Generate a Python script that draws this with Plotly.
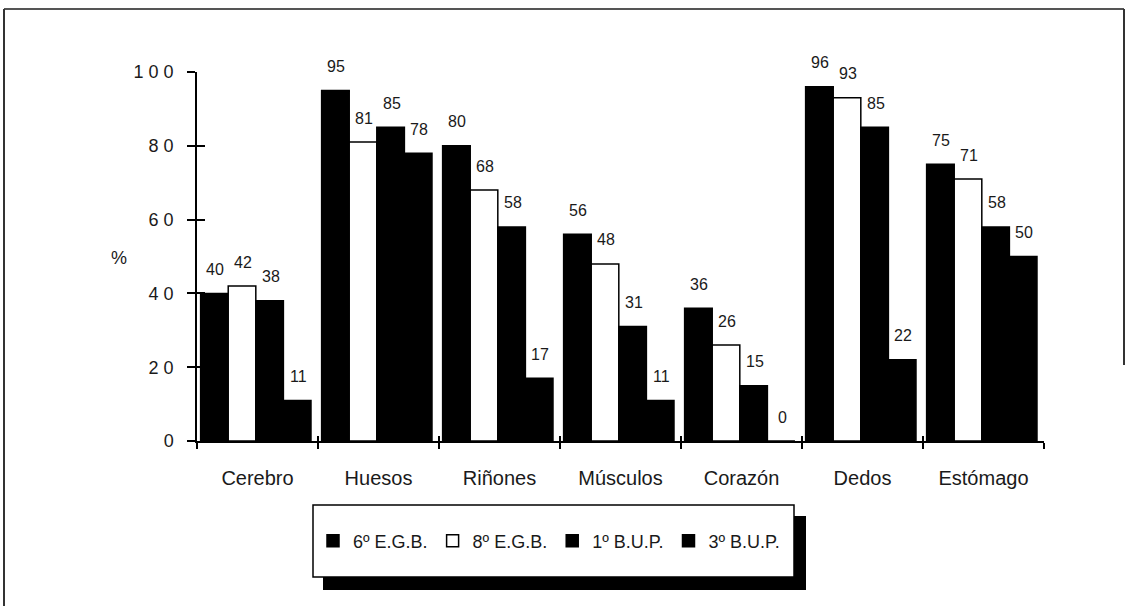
import plotly.graph_objects as go

categories = ["Cerebro", "Huesos", "Riñones", "Músculos", "Corazón", "Dedos", "Estómago"]
series_names = ["6º E.G.B.", "8º E.G.B.", "1º B.U.P.", "3º B.U.P."]
egb6 = [40, 95, 80, 56, 36, 96, 75]
egb8 = [42, 81, 68, 48, 26, 93, 71]
bup1 = [38, 85, 58, 31, 15, 85, 58]
bup3 = [11, 78, 17, 11, 0, 22, 50]
series_values = [egb6, egb8, bup1, bup3]
fills = ["black", "white", "black", "black"]
y_tickvals = [0, 20, 40, 60, 80, 100]
y_ticktext = ["0", "2 0", "4 0", "6 0", "8 0", "1 0 0"]

W, H = 1127, 607
X0, X1, Y0, Y1 = 197, 1044, 72, 441   # plot area in px
L, R, T, B = X0, W - X1, Y0, H - Y1
plot_w = X1 - X0
plot_h = Y1 - Y0
cat_px = plot_w / len(categories)

FONT = "Arial, 'Liberation Sans', Helvetica, sans-serif"
INK = "#1a1a1a"

bar_w = 0.228
start = -0.47


def px(xs):
    return (xs - X0) / plot_w


def py(ys):
    return (Y1 - ys) / plot_h


fig = go.Figure()
annotations = []
for i, (name, vals, fc) in enumerate(zip(series_names, series_values, fills)):
    off = start + i * bar_w
    fig.add_trace(go.Bar(
        name=name, x=categories, y=vals, width=bar_w, offset=off,
        marker=dict(color=fc, line=dict(color="black", width=1.5)),
        hoverinfo="skip",
    ))
    center_shift = (off + bar_w / 2) * cat_px
    for c, v in zip(categories, vals):
        annotations.append(dict(
            x=c, y=v, xref="x", yref="y", text=str(v), showarrow=False,
            xshift=center_shift + 1, yshift=24, yanchor="middle",
            font=dict(family=FONT, size=16, color=INK),
        ))

# invisible helper trace so the overlay axes (inside tick halves) render
fig.add_trace(go.Scatter(x=categories, y=[0] * len(categories), xaxis="x2", yaxis="y2",
                         mode="markers", marker=dict(opacity=0), showlegend=False,
                         hoverinfo="skip"))

annotations.append(dict(x=px(109), y=py(258), xref="paper", yref="paper",
                        text="%", showarrow=False, font=dict(family=FONT, size=18, color=INK)))

shapes = [
    # legend shadow and box
    dict(type="rect", xref="paper", yref="paper", x0=px(323), x1=px(806), y0=py(590), y1=py(516),
         fillcolor="black", line=dict(width=0), layer="below"),
    dict(type="rect", xref="paper", yref="paper", x0=px(313), x1=px(794), y0=py(577), y1=py(505),
         fillcolor="white", line=dict(color="black", width=1.5), layer="below"),
    # outer frame
    dict(type="line", xref="paper", yref="paper", x0=px(4), x1=px(1124), y0=py(9), y1=py(9),
         line=dict(color="#555", width=2)),
    dict(type="line", xref="paper", yref="paper", x0=px(4), x1=px(4), y0=py(9), y1=py(606),
         line=dict(color="#333", width=2)),
    dict(type="line", xref="paper", yref="paper", x0=px(1124), x1=px(1124), y0=py(9), y1=py(365),
         line=dict(color="#333", width=2)),
]

fig.update_layout(
    width=W, height=H,
    margin=dict(l=L, r=R, t=T, b=B),
    paper_bgcolor="white", plot_bgcolor="white",
    barmode="overlay",
    showlegend=True,
    legend=dict(orientation="h", x=px(313), xanchor="left", y=py(541), yanchor="middle",
                bgcolor="rgba(0,0,0,0)", borderwidth=0,
                font=dict(family=FONT, size=18, color=INK),
                traceorder="normal", itemclick=False, itemdoubleclick=False),
    xaxis=dict(type="category", categoryarray=categories, categoryorder="array",
               range=[-0.5, len(categories) - 0.5], tickson="boundaries",
               ticks="outside", ticklen=6, tickwidth=1.5, tickcolor="black",
               showline=True, linecolor="black", linewidth=2,
               showgrid=False, zeroline=False,
               tickfont=dict(family=FONT, size=20, color=INK), ticklabelstandoff=18),
    yaxis=dict(range=[0, 100], tickvals=y_tickvals, ticktext=y_ticktext,
               ticks="outside", ticklen=8, tickwidth=1.5, tickcolor="black",
               showline=True, linecolor="black", linewidth=1.5,
               showgrid=False, zeroline=False,
               tickfont=dict(family=FONT, size=18, color=INK), ticklabelstandoff=10),
    xaxis2=dict(type="category", categoryarray=categories, categoryorder="array", overlaying="x",
                range=[-0.5, len(categories) - 0.5], tickson="boundaries",
                ticks="inside", ticklen=5, tickwidth=1.5, tickcolor="black",
                showticklabels=False, showline=False, showgrid=False, zeroline=False),
    yaxis2=dict(range=[0, 100], tickvals=y_tickvals, overlaying="y",
                ticks="inside", ticklen=8, tickwidth=1.5, tickcolor="black",
                showticklabels=False, showline=False, showgrid=False, zeroline=False),
    annotations=annotations,
    shapes=shapes,
)

fig.write_html("out.html",
               config={"displayModeBar": False},
               post_script="document.body.style.margin='0';document.body.style.overflow='hidden';")
